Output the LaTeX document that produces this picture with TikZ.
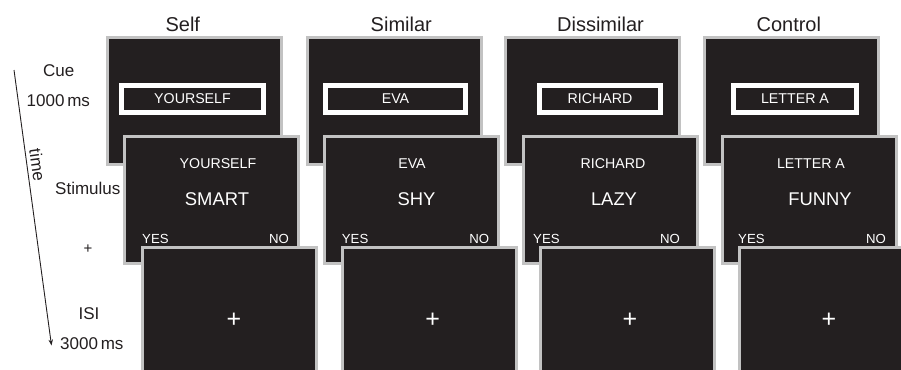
\documentclass[tikz,border=0pt]{standalone}
\usepackage{fontspec}
\setmainfont{Liberation Sans}
\usetikzlibrary{arrows.meta}
\definecolor{scr}{HTML}{231F20}
\definecolor{rim}{HTML}{C2C2C2}
\definecolor{ink}{HTML}{231F20}
\newcommand{\fsz}[1]{\fontsize{#1}{#1}\selectfont}
\tikzset{
  screen/.style={draw=rim, fill=scr, line width=3pt, minimum width=174pt,
    minimum height=127pt, anchor=north west, inner sep=0pt, outer sep=0pt},
  cuebox/.style={draw=white, fill=scr, line width=5pt, minimum height=27pt,
    anchor=north west, inner sep=0pt, outer sep=0pt, text=white, font=\fsz{14.2}},
  title/.style={anchor=base, inner sep=0pt, text=ink, font=\fsz{20}},
  side/.style={anchor=base west, inner sep=0pt, text=ink, font=\fsz{17}},
  wordA/.style={anchor=base, inner sep=0pt, text=white, font=\fsz{14.2}},
  wordB/.style={anchor=base, inner sep=0pt, text=white, font=\fsz{18.4}},
  yes/.style={anchor=base west, inner sep=0pt, text=white, font=\fsz{13.2}},
  no/.style={anchor=base east, inner sep=0pt, text=white, font=\fsz{13.2}},
  fix/.style={anchor=center, inner sep=0pt, text=white, font=\fsz{25}},
}
\begin{document}
\begin{tikzpicture}[x=1pt,y=-1pt]
\useasboundingbox (0,0) rectangle (901,369);
\clip (0,0) rectangle (901,369);

% titles
\node[title] (tSelf) at (182.8,31.5) {Self};
\node[title] (tSim) at (401.3,31.5) {Similar};
\node[title] (tDis) at (600.5,31.5) {Dissimilar};
\node[title] (tCon) at (788.8,31.5) {Control};

% side labels
\node[side] (lCue) at (43,76) {Cue};
\node[side] (lCueT) at (26.5,106.7) {1000\,ms};
\node[side] (lStim) at (55,194) {Stimulus};
\node[anchor=center, inner sep=0pt, text=ink, font=\fsz{15}] (lPlus) at (88,249) {+};
\node[anchor=base, inner sep=0pt, text=ink, font=\fsz{17}] (lISI) at (89,319) {ISI};
\node[side] (lISIT) at (60,349) {3000\,ms};
\coordinate (tstart) at (14,70);
\coordinate (tend) at (51.5,345.5);
\draw[ink, line width=0.9pt, -{Stealth[length=6pt,width=4.5pt]}] (tstart) -- (tend);
\node[inner sep=0pt, text=ink, font=\fsz{17}, rotate=-82] (ltime) at (37.5,165) {time};

% ---- Self
\node[screen] (cue1) at (107.5,37.5) {};
\node[cuebox, minimum width=142pt] (cb1) at (121.5,85.5) {YOURSELF};
\node[screen] (st1) at (124.5,136.5) {};
\node[wordA] (w1a) at (218,168) {YOURSELF};
\node[wordB] (w1b) at (217,205) {SMART};
\node[yes] (y1) at (142,243.3) {YES};
\node[no] (n1) at (289,243.3) {NO};
\node[screen] (isi1) at (142.5,247.5) {};
\node[fix] (f1) at (234,320) {+};

% ---- Similar
\node[screen] (cue2) at (307.5,37.5) {};
\node[cuebox, minimum width=140pt] (cb2) at (325.5,85.5) {EVA};
\node[screen] (st2) at (324.5,136.5) {};
\node[wordA] (w2a) at (412,168) {EVA};
\node[wordB] (w2b) at (416.5,205) {SHY};
\node[yes] (y2) at (341.7,243.3) {YES};
\node[no] (n2) at (489.3,243.3) {NO};
\node[screen] (isi2) at (342.5,247.5) {};
\node[fix] (f2) at (432.7,320) {+};

% ---- Dissimilar
\node[screen] (cue3) at (505.5,37.5) {};
\node[cuebox, minimum width=121pt] (cb3) at (539.5,85.5) {RICHARD};
\node[screen] (st3) at (523,136.5) {};
\node[wordA] (w3a) at (613,168) {RICHARD};
\node[wordB] (w3b) at (614,205) {LAZY};
\node[yes] (y3) at (533,243.3) {YES};
\node[no] (n3) at (680,243.3) {NO};
\node[screen] (isi3) at (540.5,247.5) {};
\node[fix] (f3) at (630,320) {+};

% ---- Control
\node[screen] (cue4) at (704.5,37.5) {};
\node[cuebox, minimum width=123pt] (cb4) at (733.5,85.5) {LETTER A};
\node[screen] (st4) at (722.5,136.5) {};
\node[wordA] (w4a) at (811,168) {LETTER A};
\node[wordB] (w4b) at (820,205) {FUNNY};
\node[yes] (y4) at (738,243.3) {YES};
\node[no] (n4) at (886,243.3) {NO};
\node[screen] (isi4) at (739.5,247.5) {};
\node[fix] (f4) at (829,320) {+};
\end{tikzpicture}
\end{document}
